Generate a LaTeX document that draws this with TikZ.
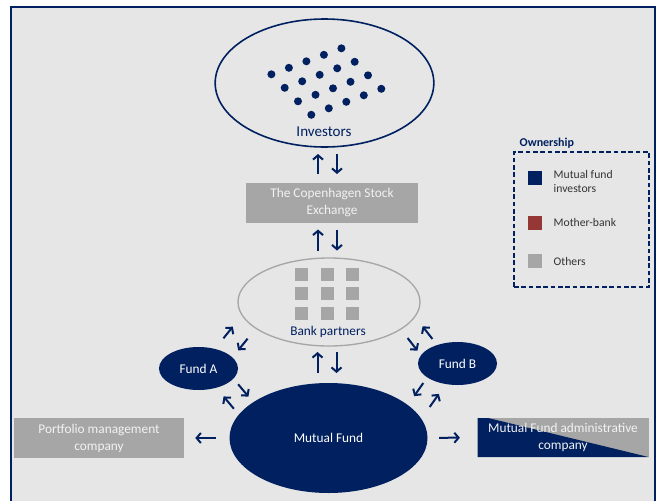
\documentclass[tikz,border=0pt]{standalone}
\usepackage{fontspec}
\setmainfont{Carlito}
\usetikzlibrary{shapes.geometric,arrows.meta,calc}

\definecolor{navy}{RGB}{0,32,96}
\definecolor{boxgray}{RGB}{166,166,166}
\definecolor{panel}{RGB}{230,230,230}
\definecolor{motherred}{RGB}{149,55,53}
\definecolor{lighttext}{RGB}{242,242,242}

\begin{document}
\begin{tikzpicture}[x=0.75pt,y=-0.75pt,font=\fontsize{10}{12.75}\selectfont]
    \tikzstyle{flow}=[draw=navy,line width=1.5pt,-{Straight Barb[length=3.2pt,width=7.5pt]}]
    \tikzstyle{blob}=[ellipse,inner sep=0pt]
    \tikzstyle{fund}=[blob,fill=navy,text=white]
    \tikzstyle{company}=[rectangle,fill=boxgray,text=lighttext,align=center,inner sep=0pt]
    \tikzstyle{legend key}=[rectangle,minimum size=10.5pt,inner sep=0pt]
    \tikzstyle{legend text}=[anchor=west,text=black!80,align=left,font=\fontsize{8.75}{10.5}\selectfont]

    \useasboundingbox (0,0) rectangle (657,500);

    % Background panel
    \draw[navy,line width=1.5pt,fill=panel] (11,7) rectangle (655,506);

    % Investors
    \node[blob,draw=navy,line width=1.2pt,minimum width=164pt,minimum height=96pt] (inv) at (324.5,83) {};
    \foreach \r in {0,...,3}
        \foreach \c in {0,...,4}
            \fill[navy] (341.4+13.3*\r-17.5*\c, 48.3+13.5*\r+6.5*\c) circle[radius=3pt];
    \node[text=navy,font=\fontsize{11.3}{13}\selectfont] (inv-label) at (324,131.5) {Investors};

    % Stock exchange
    \node[company,minimum width=129pt,minimum height=30pt] (exch) at (332,203) {The Copenhagen Stock\\Exchange};

    % Bank partners
    \node[blob,draw=boxgray,line width=1pt,minimum width=136.5pt,minimum height=66pt] (bank) at (329,302) {};
    \foreach \i in {0,1,2}
        \foreach \j in {0,1,2}
            \fill[boxgray] (301.5+25.5*\i-6.5, 274.5+19.25*\j-6.5) rectangle ++(13,13);
    \node[text=navy] (bank-label) at (328,332) {Bank partners};

    % Funds
    \node[fund,minimum width=59.25pt,minimum height=32.25pt] (fa) at (198.5,368.5) {Fund A};
    \node[fund,minimum width=59.25pt,minimum height=32.25pt] (fb) at (457.5,363.5) {Fund B};
    \node[fund,minimum width=148.5pt,minimum height=82.5pt] (mf) at (328.5,438) {Mutual Fund};

    % Companies around the mutual fund
    \node[company,minimum width=127.5pt,minimum height=30pt] (pm) at (99,438) {Portfolio management\\company};
    \node[company,minimum width=128.25pt,minimum height=29.25pt,
          path picture={\fill[navy] ([xshift=8pt]path picture bounding box.north west)
              -- (path picture bounding box.south east)
              -- (path picture bounding box.south west)
              -- (path picture bounding box.north west) -- cycle;}]
          (adm) at (563,437.5) {Mutual Fund administrative\\company};

    % Two-way flows: centre / angle / side / length
    \coordinate (ie) at (327.5,164);
    \coordinate (eb) at (327.5,240);
    \coordinate (bm) at (327,362.5);
    \coordinate (ab) at (235.5,338.5);
    \coordinate (am) at (236,396.5);
    \coordinate (bb) at (420,338.5);
    \coordinate (bf) at (426.5,395);
    \foreach \c/\a/\s/\l in {ie/270/1/20, eb/270/1/21, bm/270/1/21, ab/309/1/15,
                             am/50/1/16, bb/52/-1/16, bf/125/-1/16} {
        \pgfmathsetmacro\sideA{\a-(\s)*90}
        \pgfmathsetmacro\sideB{\a+(\s)*90}
        \pgfmathsetmacro\back{\a+180}
        \draw[flow] ($(\c)+(\sideA:9.5)-(\a:\l/2)$) -- ++(\a:\l);
        \draw[flow] ($(\c)+(\sideB:9.5)+(\a:\l/2)$) -- ++(\back:\l);
    }

    % One-way flows
    \draw[flow,shorten <=10pt,shorten >=8.25pt] (mf) -- (pm);
    \draw[flow,shorten <=8.6pt,shorten >=13pt] (mf) -- (adm);

    % Ownership legend
    \node[text=navy,anchor=west,font=\bfseries\fontsize{9}{11}\selectfont] (own) at (515,143) {Ownership};
    \node[draw=navy,line width=1.2pt,dash pattern=on 3.5pt off 2pt,minimum width=101.25pt,minimum height=101.25pt,inner sep=0pt] (legend) at (581.5,219.5) {};
    \node[legend key,fill=navy] (k-inv) at (535,177.5) {};
    \node[legend text] (t-inv) at (549,181) {Mutual fund\\investors};
    \node[legend key,fill=motherred] (k-bank) at (535,222.5) {};
    \node[legend text] (t-bank) at (549,222) {Mother-bank};
    \node[legend key,fill=boxgray] (k-other) at (535,260.5) {};
    \node[legend text] (t-other) at (549,261) {Others};
\end{tikzpicture}
\end{document}
